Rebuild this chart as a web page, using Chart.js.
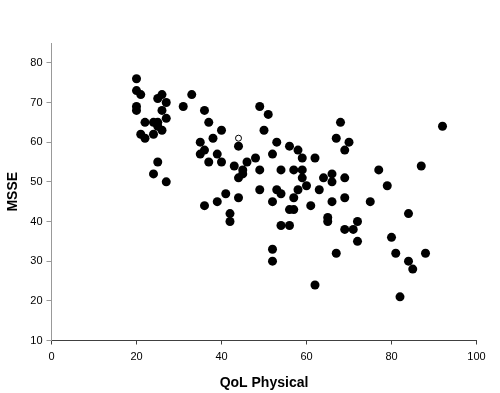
<!DOCTYPE html>
<html>
<head>
<meta charset="utf-8">
<script src="https://cdn.jsdelivr.net/npm/chart.js@4"></script>
<style>
html,body{margin:0;padding:0;background:#fff;}
canvas{display:block;}
</style>
</head>
<body>
<canvas id="c" width="500" height="393"></canvas>
<script>
// QoL Physical (x) values of the filled points
const qolX = [20,20,21,20,20,22,21,22,24,25,25,26,24,25,26,26,27,27,25,24,27,31,33,36,37,40,38,35,36,35,39,37,40,44,43,46,45,45,44,36,39,41,44,42,42,
  49,51,50,48,49,49,52,53,54,56,58,59,62,57,59,59,53,54,58,60,57,52,56,57,61,64,63,66,66,66,65,65,69,69,68,67,70,69,72,75,77,79,84,87,92,
  54,56,69,71,72,67,52,52,62,80,81,84,85,88,82];
// MSSE (y) values of the filled points
const msseY = [76,73,72,69,68,65,62,61,65,65,64,63,62,71,72,68,70,66,55,52,50,69,72,68,65,63,61,60,58,57,57,55,55,59,54,55,53,52,51,44,45,47,46,42,40,
  69,67,63,56,53,48,57,60,53,59,58,56,56,53,53,51,48,47,48,49,46,45,43,43,44,51,48,52,50,45,41,40,51,46,65,61,60,58,40,45,53,49,42,54,64,
  39,39,38,38,35,32,33,30,24,36,32,30,28,32,21];
// The single open-circle point
const openX = [44];
const openY = [61];
const xTicks = [0,20,40,60,80,100];
const yTicks = [10,20,30,40,50,60,70,80];

const filled = qolX.map((x,i)=>({x:x, y:msseY[i]}));
const hollow = openX.map((x,i)=>({x:x, y:openY[i]}));

const FONT = "'Liberation Sans', Arial, sans-serif";

new Chart(document.getElementById('c'), {
  type: 'scatter',
  data: {
    datasets: [
      {data: filled, backgroundColor:'#000', borderColor:'#000', borderWidth:0, pointRadius:4.5, pointHoverRadius:4.5},
      {data: hollow, backgroundColor:'#fff', borderColor:'#000', borderWidth:1, pointRadius:3, pointHoverRadius:3}
    ]
  },
  options: {
    responsive:false,
    animation:false,
    events:[],
    layout:{padding:{left:0, right:23.5, top:43, bottom:0}},
    plugins:{legend:{display:false}, tooltip:{enabled:false}},
    scales:{
      x:{
        type:'linear', min:0, max:100,
        afterBuildTicks:(s)=>{ s.ticks = xTicks.map(v=>({value:v})); },
        afterFit:(s)=>{ s.height = 52.5; },
        border:{display:true, color:'#404040', width:1},
        grid:{display:true, drawOnChartArea:false, drawTicks:true, tickLength:4, color:'#404040'},
        ticks:{color:'#000', font:{family:FONT, size:11}, padding:6, maxRotation:0},
        title:{display:true, text:'QoL Physical', color:'#000', font:{family:FONT, size:14, weight:'bold'}, padding:{top:4,bottom:1}}
      },
      y:{
        type:'linear', min:10, max:85,
        afterBuildTicks:(s)=>{ s.ticks = yTicks.map(v=>({value:v})); },
        afterFit:(s)=>{ s.width = 51.5; },
        border:{display:true, color:'#999', width:1},
        grid:{display:true, drawOnChartArea:false, drawTicks:true, tickLength:5, color:'#999'},
        ticks:{color:'#000', font:{family:FONT, size:11}, padding:4},
        title:{display:true, text:'MSSE', color:'#000', font:{family:FONT, size:14, weight:'bold'}, padding:{top:5,bottom:4}}
      }
    }
  }
});
</script>
</body>
</html>
